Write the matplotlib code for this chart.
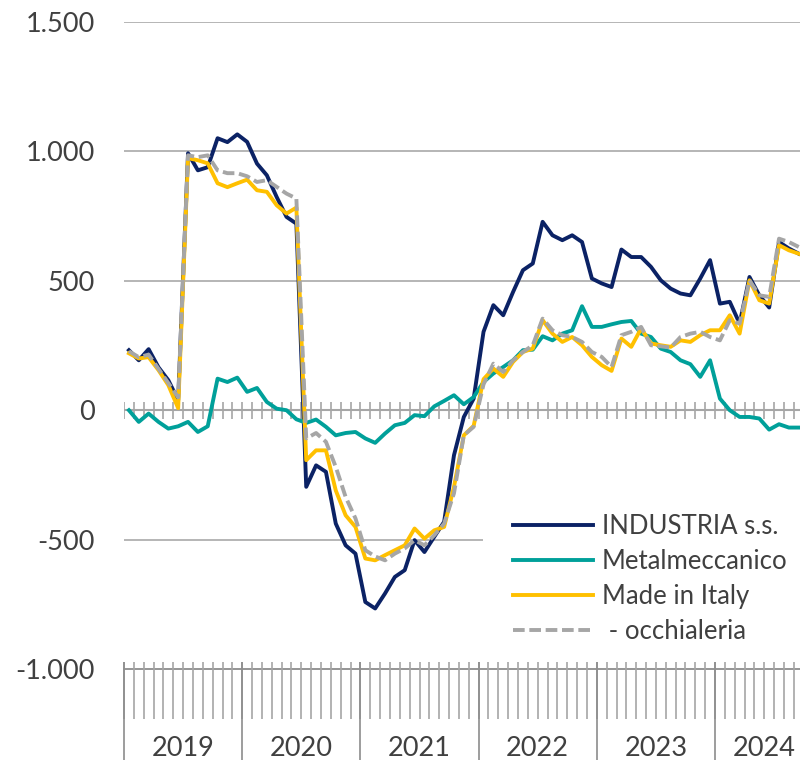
import matplotlib
matplotlib.use("Agg")
import matplotlib.pyplot as plt
import matplotlib.transforms as mtransforms
from matplotlib.ticker import FuncFormatter
import numpy as np

# monthly data, Jan 2019 -> Sep 2024
years = ['2019', '2020', '2021', '2022', '2023', '2024']
months_shown = [12, 12, 12, 12, 12, 10]   # months of the category axis per year

industria = [232, 193, 236, 166, 116, 39,
             993, 927, 939, 1051, 1036, 1066,
             1037, 953, 908, 824, 747, 721,
             -296, -213, -238, -438, -522, -554,
             -741, -766, -708, -644, -618, -502,
             -548, -489, -431, -174, -26, 45,
             303, 406, 367, 457, 541, 567,
             728, 676, 657, 676, 650, 509,
             490, 476, 621, 592, 592, 554,
             502, 470, 451, 444, 509, 580,
             412, 419, 335, 515, 444, 397,
             650, 625, 605]

metalmeccanico = [0, -45, -13, -45, -71, -62,
                  -45, -84, -62, 122, 109, 126,
                  71, 86, 32, 6, 0, -35,
                  -49, -36, -64, -97, -88, -84,
                  -109, -126, -90, -58, -49, -19,
                  -23, 15, 36, 58, 23, 51,
                  109, 142, 167, 193, 232, 234,
                  286, 270, 296, 309, 402, 322,
                  322, 332, 341, 345, 296, 283,
                  238, 225, 193, 178, 129, 193,
                  45, 0, -26, -26, -32, -75,
                  -54, -67, -67]

made_in_italy = [220, 200, 205, 155, 97, 8,
                 974, 966, 954, 877, 862, 877,
                 891, 850, 844, 792, 760, 783,
                 -193, -155, -155, -310, -406, -451,
                 -573, -580, -560, -541, -522, -457,
                 -496, -464, -451, -296, -97, -60,
                 120, 161, 129, 187, 225, 238,
                 348, 296, 264, 283, 251, 206,
                 174, 152, 277, 245, 316, 258,
                 251, 245, 270, 264, 290, 309,
                 309, 367, 296, 502, 425, 412,
                 638, 618, 605]

occhialeria = [228, 205, 215, 160, 105, 50,
               985, 978, 985, 927, 916, 916,
               904, 882, 889, 863, 837, 818,
               -109, -88, -122, -219, -335, -418,
               -541, -565, -580, -554, -534, -502,
               -522, -483, -438, -321, -97, -64,
               100, 180, 148, 193, 225, 251,
               354, 309, 290, 283, 264, 225,
               206, 167, 290, 303, 322, 251,
               247, 242, 283, 296, 303, 283,
               270, 348, 335, 502, 444, 438,
               663, 650, 631]

labels = ['INDUSTRIA s.s.', 'Metalmeccanico', 'Made in Italy', ' - occhialeria']

plt.rcParams['font.family'] = ['Lato', 'DejaVu Sans']
txt = '#404040'

n_months = sum(months_shown)
fig = plt.figure(figsize=(8, 7.6), dpi=100)
ax = fig.add_axes([0.155, 0.1197, n_months * 9.85 / 800, 0.8513])
ax.set_xlim(-0.5, n_months - 0.5)
ax.set_ylim(-1000, 1500)

for s in ax.spines.values():
    s.set_visible(False)
ax.set_xticks([])
ax.set_yticks([-1000, -500, 0, 500, 1000, 1500])
ax.yaxis.set_major_formatter(FuncFormatter(lambda v, p: f"{v:,.0f}".replace(',', '.')))
ax.tick_params(axis='y', length=0, pad=21, labelsize=19.5, labelcolor=txt)

# gridlines
for v in [-500, 500, 1000, 1500]:
    ax.axhline(v, color='#B0B0B0', lw=1.3, zorder=1)
ax.axhline(0, color='#A6A6A6', lw=1.5, zorder=1)
ax.axhline(-1000, color='#8C8C8C', lw=1.3, zorder=6, clip_on=False)

edges = np.arange(-0.5, n_months, 1)
ax.vlines(edges, -33, 33, color='#A6A6A6', lw=1.2, zorder=1)

trans = mtransforms.blended_transform_factory(ax.transData, ax.transAxes)
ax.vlines(edges, -0.0773, 0.0108, transform=trans, color='#A6A6A6', lw=1.2,
          clip_on=False, zorder=6)
starts = np.concatenate([[0], np.cumsum(months_shown)]) - 0.5
ax.vlines(starts, -0.15, 0.0108, transform=trans, color='#8C8C8C', lw=1.2,
          clip_on=False, zorder=6)
for k, y in enumerate(years):
    ax.text((starts[k] + starts[k + 1]) / 2, -0.1221, y, transform=trans,
            ha='center', va='center', fontsize=19.5, color=txt)

x = np.arange(len(industria))
ax.plot(x, industria, color='#0B2265', lw=2.8, label=labels[0], zorder=3)
ax.plot(x, metalmeccanico, color='#00A09A', lw=2.8, label=labels[1], zorder=3)
ax.plot(x, made_in_italy, color='#FFC000', lw=2.8, label=labels[2], zorder=3)
ax.plot(x, occhialeria, color='#A6A6A6', lw=2.8, ls=(0, (3.0, 1.2)),
        label=labels[3], zorder=4)

leg = ax.legend(loc='upper left', bbox_to_anchor=(483 / 800, 1 - 484 / 760),
                bbox_transform=fig.transFigure, borderaxespad=0, frameon=True,
                fancybox=False, edgecolor='none', facecolor='white', framealpha=1,
                fontsize=18.5, handlelength=3.12, handletextpad=0.35,
                labelspacing=0.4, borderpad=1.15)
for t in leg.get_texts():
    t.set_color(txt)

fig.savefig('out.png', dpi=100)
